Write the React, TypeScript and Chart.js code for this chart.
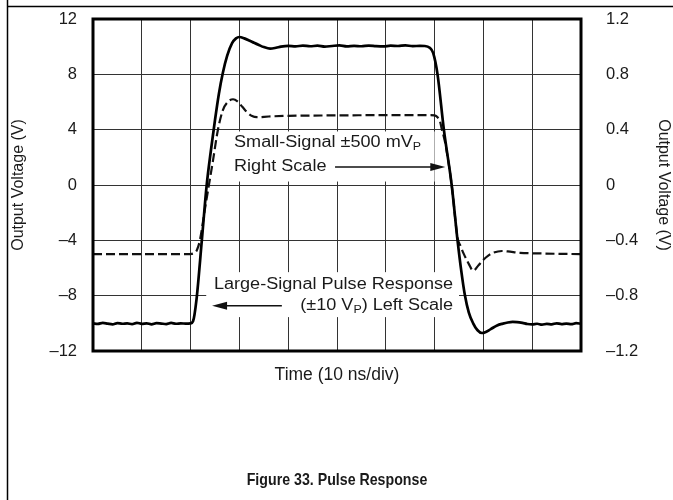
import React, { useEffect, useRef } from 'react';
import { Chart, registerables } from 'chart.js';

Chart.register(...registerables);

// ---- data (time in divisions of 10 ns) ----
const timeLarge = [
  0, 0.1, 0.2, 0.3, 0.4, 0.5, 0.6, 0.7, 0.8, 0.9, 1.0, 1.1, 1.2, 1.3, 1.4, 1.5, 1.6, 1.7, 1.8, 1.9,
  2.0, 2.05, 2.12, 2.23, 2.33, 2.42, 2.5, 2.58, 2.66, 2.75, 2.85, 2.93, 3.0, 3.1, 3.2, 3.3, 3.4, 3.5, 3.63, 3.75, 3.85, 4.0,
  4.15, 4.3, 4.45, 4.6, 4.75, 4.9, 5.05, 5.2, 5.35, 5.5, 5.65, 5.8, 5.95, 6.1, 6.25, 6.4, 6.55, 6.7,
  6.8, 6.9, 6.97, 7.06, 7.19, 7.35, 7.47, 7.55, 7.62, 7.7, 7.79, 7.88, 7.97, 8.05, 8.15, 8.28, 8.4, 8.5, 8.6, 8.69,
  8.8, 8.9, 9.0, 9.1, 9.2, 9.3, 9.4, 9.5, 9.6, 9.7, 9.8, 9.9, 10,
];
const largeSignal = [
  -10.0, -10.04, -9.97, -10.02, -10.07, -9.98, -10.03, -10.0, -10.06, -9.96, -10.04, -10.0, -10.07, -9.99, -10.02, -10.05, -9.97, -10.03, -10.0, -10.02,
  -10.0, -9.85, -8.3, -4.0, 0.0, 2.6, 4.7, 6.6, 8.1, 9.35, 10.25, 10.6, 10.7, 10.6, 10.45, 10.28, 10.12, 9.97, 9.86, 9.92, 10.0, 10.06,
  10.02, 10.08, 10.03, 10.07, 10.0, 10.05, 10.09, 10.02, 10.06, 10.03, 10.08, 10.04, 10.02, 10.07, 10.05, 10.09, 10.04, 10.06,
  10.05, 9.92, 9.55, 8.0, 4.0, 0.0, -4.0, -6.3, -7.95, -9.2, -10.0, -10.5, -10.7, -10.62, -10.42, -10.15, -10.02, -9.94, -9.9, -9.91,
  -9.97, -10.05, -10.08, -10.03, -10.1, -10.04, -10.07, -10.0, -10.05, -10.02, -10.06, -9.99, -10.03,
];
const timeSmall = [
  0, 0.5, 1.0, 1.5, 1.95, 2.02, 2.08, 2.13, 2.19,
  2.3, 2.38, 2.46, 2.56, 2.66, 2.76, 2.87, 2.96, 3.06, 3.16, 3.26, 3.36,
  3.6, 4.0, 5.0, 6.0, 6.9, 7.0,
  7.06, 7.11, 7.15, 7.22, 7.35, 7.47, 7.53, 7.6, 7.7, 7.79,
  7.9, 8.0, 8.1, 8.2, 8.38, 8.5, 8.75, 9.2, 10,
];
const smallSignal = [
  -0.5, -0.5, -0.5, -0.5, -0.5, -0.498, -0.49, -0.47, -0.4,
  -0.16, 0.01, 0.18, 0.4, 0.54, 0.6, 0.62, 0.605, 0.565, 0.525, 0.498, 0.49,
  0.495, 0.5, 0.503, 0.505, 0.505, 0.503,
  0.49, 0.46, 0.4, 0.3, 0.0, -0.38, -0.44, -0.5, -0.57, -0.62,
  -0.58, -0.54, -0.51, -0.49, -0.477, -0.48, -0.49, -0.495, -0.5,
];

const timeDivisions = [0, 1, 2, 3, 4, 5, 6, 7, 8, 9, 10];
const leftTicks = [-12, -8, -4, 0, 4, 8, 12];
const leftTickLabels = ['\u201312', '\u20138', '\u20134', '0', '4', '8', '12'];
const rightTicks = [-1.2, -0.8, -0.4, 0, 0.4, 0.8, 1.2];
const rightTickLabels = ['\u20131.2', '\u20130.8', '\u20130.4', '0', '0.4', '0.8', '1.2'];

const leftTitle = 'Output Voltage (V)';
const rightTitle = 'Output Voltage (V)';
const xTitle = 'Time (10 ns/div)';
const caption = 'Figure 33. Pulse Response';

const FONT = '"Liberation Sans", Arial, Helvetica, sans-serif';
const TEXT = '#1a1a1a';

type Part = { text: string; sub?: boolean };

function drawParts(ctx: CanvasRenderingContext2D, parts: Part[], x: number, y: number, align: 'left' | 'right' | 'center', size = 16, bold = false, sx = 1.13) {
  const mainFont = `${bold ? 'bold ' : ''}${size}px ${FONT}`;
  const subFont = `${bold ? 'bold ' : ''}${Math.round(size * 0.7)}px ${FONT}`;
  const widths = parts.map((p) => {
    ctx.font = p.sub ? subFont : mainFont;
    return ctx.measureText(p.text).width * sx;
  });
  const total = widths.reduce((a, b) => a + b, 0);
  let cx = align === 'left' ? x : align === 'right' ? x - total : x - total / 2;
  parts.forEach((p, i) => {
    ctx.save();
    ctx.font = p.sub ? subFont : mainFont;
    ctx.fillStyle = TEXT;
    ctx.textAlign = 'left';
    ctx.textBaseline = 'middle';
    ctx.translate(cx, y + (p.sub ? 4 : 0));
    ctx.scale(sx, 1);
    ctx.fillText(p.text, 0, 0);
    ctx.restore();
    cx += widths[i];
  });
}

function arrow(ctx: CanvasRenderingContext2D, x0: number, x1: number, y: number) {
  const dir = x1 > x0 ? 1 : -1;
  ctx.save();
  ctx.strokeStyle = '#111';
  ctx.fillStyle = '#111';
  ctx.lineWidth = 1.5;
  ctx.beginPath();
  ctx.moveTo(x0, y);
  ctx.lineTo(x1 - dir * 10, y);
  ctx.stroke();
  ctx.beginPath();
  ctx.moveTo(x1, y);
  ctx.lineTo(x1 - dir * 15, y - 4);
  ctx.lineTo(x1 - dir * 15, y + 4);
  ctx.closePath();
  ctx.fill();
  ctx.restore();
}

const decor = {
  id: 'decor',
  beforeDraw(chart: any) {
    const ctx = chart.ctx as CanvasRenderingContext2D;
    ctx.save();
    ctx.fillStyle = '#fff';
    ctx.fillRect(0, 0, chart.width, chart.height);
    ctx.strokeStyle = '#000';
    ctx.lineWidth = 1.5;
    ctx.beginPath();
    ctx.moveTo(7.5, 0);
    ctx.lineTo(7.5, chart.height);
    ctx.moveTo(7, 6.5);
    ctx.lineTo(chart.width, 6.5);
    ctx.stroke();
    ctx.restore();
  },
  beforeDatasetsDraw(chart: any) {
    const ctx = chart.ctx as CanvasRenderingContext2D;
    const xs = chart.scales.x;
    const ys = chart.scales.y;
    const box = (t0: number, t1: number, v0: number, v1: number) => {
      const x0 = xs.getPixelForValue(t0);
      const x1 = xs.getPixelForValue(t1);
      const y0 = ys.getPixelForValue(v1);
      const y1 = ys.getPixelForValue(v0);
      ctx.fillRect(x0, y0, x1 - x0, y1 - y0);
    };
    ctx.save();
    ctx.fillStyle = '#fff';
    box(2.77, 7.0, 0.25, 3.87);
    box(2.32, 7.5, -9.55, -6.3);
    ctx.restore();
  },
  afterDatasetsDraw(chart: any) {
    const ctx = chart.ctx as CanvasRenderingContext2D;
    const { left, top, right, bottom } = chart.chartArea;
    const xs = chart.scales.x;
    const ys = chart.scales.y;
    const px = (t: number) => xs.getPixelForValue(t);
    const py = (v: number) => ys.getPixelForValue(v);

    ctx.save();
    ctx.strokeStyle = '#000';
    ctx.lineWidth = 3;
    ctx.strokeRect(left, top, right - left, bottom - top);
    ctx.restore();

    // Small-signal annotation
    drawParts(ctx, [{ text: 'Small-Signal \u00b1500 mV' }, { text: 'P', sub: true }], px(2.89), py(3.04), 'left');
    drawParts(ctx, [{ text: 'Right Scale' }], px(2.89), py(1.3), 'left');
    arrow(ctx, px(4.96), px(7.22), py(1.3));

    // Large-signal annotation
    drawParts(ctx, [{ text: 'Large-Signal Pulse Response' }], px(7.38), py(-7.23), 'right');
    drawParts(ctx, [{ text: '(\u00b110 V' }, { text: 'P', sub: true }, { text: ') Left Scale' }], px(7.38), py(-8.75), 'right');
    arrow(ctx, px(3.87), px(2.44), py(-8.72));

    // caption
    drawParts(ctx, [{ text: caption }], (left + right) / 2, 480, 'center', 16.5, true, 0.86);
  },
};

export default function App() {
  const ref = useRef<HTMLCanvasElement | null>(null);

  useEffect(() => {
    if (!ref.current) return;
    const gridColor = '#333';
    const chart = new Chart(ref.current, {
      type: 'line',
      data: {
        datasets: [
          {
            label: 'Large-Signal (\u00b110 VP)',
            data: timeLarge.map((t, i) => ({ x: t, y: largeSignal[i] })),
            borderColor: '#000',
            borderWidth: 2.7,
            pointRadius: 0,
            fill: false,
            cubicInterpolationMode: 'monotone',
            yAxisID: 'y',
          },
          {
            label: 'Small-Signal (\u00b1500 mVP)',
            data: timeSmall.map((t, i) => ({ x: t, y: smallSignal[i] })),
            borderColor: '#111',
            borderWidth: 2.2,
            borderDash: [9, 4],
            pointRadius: 0,
            fill: false,
            cubicInterpolationMode: 'monotone',
            yAxisID: 'y2',
          },
        ],
      },
      options: {
        animation: false,
        responsive: false,
        devicePixelRatio: 1,
        layout: { padding: { top: 19, left: 0, right: 0, bottom: 0 } },
        plugins: { legend: { display: false }, tooltip: { enabled: false }, title: { display: false } },
        scales: {
          x: {
            type: 'linear',
            min: 0,
            max: 10,
            afterBuildTicks: (s: any) => {
              s.ticks = timeDivisions.map((v) => ({ value: v }));
            },
            afterFit: (s: any) => {
              s.height = 149;
              s.paddingLeft = 0;
              s.paddingRight = 0;
            },
            ticks: { display: false },
            grid: { color: gridColor, lineWidth: 1, drawTicks: false },
            border: { display: false },
            title: {
              display: true,
              text: xTitle,
              color: TEXT,
              font: { family: FONT, size: 17.5 },
              padding: { top: 0, bottom: 114 },
            },
          },
          y: {
            type: 'linear',
            position: 'left',
            min: -12,
            max: 12,
            afterBuildTicks: (s: any) => {
              s.ticks = leftTicks.map((v) => ({ value: v }));
            },
            afterFit: (s: any) => {
              s.width = 93;
              s.paddingTop = 0;
              s.paddingBottom = 0;
            },
            ticks: {
              padding: 16,
              color: TEXT,
              font: { family: FONT, size: 16.5 },
              callback: (_v: any, i: number) => leftTickLabels[i],
            },
            grid: { color: gridColor, lineWidth: 1, drawTicks: false },
            border: { display: false },
            title: {
              display: true,
              text: leftTitle,
              color: TEXT,
              font: { family: FONT, size: 16 },
              padding: { top: 8.5, bottom: 0 },
            },
          },
          y2: {
            type: 'linear',
            position: 'right',
            min: -1.2,
            max: 1.2,
            afterBuildTicks: (s: any) => {
              s.ticks = rightTicks.map((v) => ({ value: v }));
            },
            afterFit: (s: any) => {
              s.width = 92;
              s.paddingTop = 0;
              s.paddingBottom = 0;
            },
            ticks: {
              padding: 25,
              color: TEXT,
              font: { family: FONT, size: 16.5 },
              callback: (_v: any, i: number) => rightTickLabels[i],
            },
            grid: { display: false, drawTicks: false },
            border: { display: false },
            title: {
              display: true,
              text: rightTitle,
              color: TEXT,
              font: { family: FONT, size: 16 },
              padding: { top: 0, bottom: 0 },
            },
          },
        },
      } as any,
      plugins: [decor],
    });
    return () => chart.destroy();
  }, []);

  return (
    <div style={{ position: 'fixed', left: 0, top: 0, width: 673, height: 500, background: '#fff' }}>
      <canvas ref={ref} width={673} height={500} style={{ display: 'block', width: 673, height: 500 }} />
    </div>
  );
}
